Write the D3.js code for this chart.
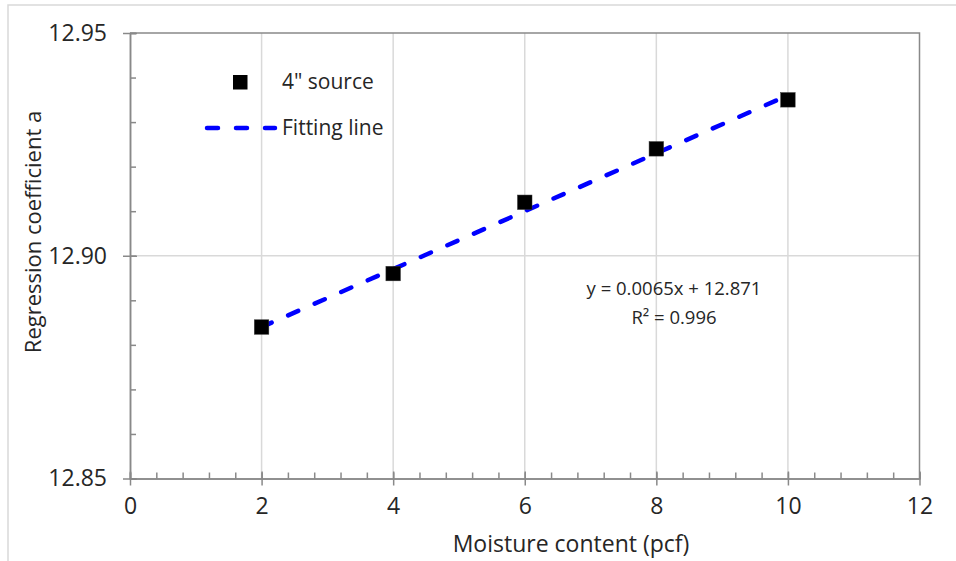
<!DOCTYPE html>
<html>
<head>
<meta charset="utf-8">
<script src="https://cdn.jsdelivr.net/npm/d3@7"></script>
<style>
    body { margin: 0; background: #fff; }
    #chart text { font-family: "Open Sans", sans-serif; fill: #262626; }
</style>
</head>
<body>
<div id="chart"></div>
<script>
var moisture = [2, 4, 6, 8, 10];
var coefficientA = [12.884, 12.896, 12.912, 12.924, 12.935];
var fitSlope = 0.0065;
var fitIntercept = 12.871;
var xTicks = [0, 2, 4, 6, 8, 10, 12];
var yTicks = [12.85, 12.90, 12.95];
var legendLabels = ["4\" source", "Fitting line"];
var equationLines = ["y = 0.0065x + 12.871", "R\u00b2 = 0.996"];

var MoistureChart;
(function (MoistureChart) {
    var Chart = (function () {
        function Chart() {
            this.svg = d3.select("#chart").append("svg").attr("width", Chart.width).attr("height", Chart.height);
            this.x = d3.scaleLinear().domain([0, 12]).range([130, 919.5]);
            this.y = d3.scaleLinear().domain([12.85, 12.95]).range([478.5, 33]);
            this.drawFrame();
            this.drawGrid();
            this.drawAxes();
            this.drawSeries();
            this.drawLegend();
            this.drawLabels();
        }

        Chart.prototype.drawFrame = function () {
            this.svg.append("rect").attr("x", 8).attr("y", 5).attr("width", 1000).attr("height", 600)
                .attr("fill", "none").attr("stroke", "#d9d9d9").attr("stroke-width", 1.5);
        };

        Chart.prototype.drawGrid = function () {
            var _this = this;
            this.svg.append("g").selectAll("line").data(xTicks.slice(1, -1)).enter().append("line")
                .attr("x1", function (d) { return _this.x(d); }).attr("x2", function (d) { return _this.x(d); })
                .attr("y1", this.y(12.95)).attr("y2", this.y(12.85))
                .attr("stroke", "#d9d9d9").attr("stroke-width", 1.5);
            this.svg.append("g").selectAll("line").data(yTicks.slice(1, -1)).enter().append("line")
                .attr("x1", this.x(0)).attr("x2", this.x(12))
                .attr("y1", function (d) { return _this.y(d); }).attr("y2", function (d) { return _this.y(d); })
                .attr("stroke", "#d9d9d9").attr("stroke-width", 1.5);
            // top and right edges of plot area
            this.svg.append("path")
                .attr("d", "M" + this.x(0) + "," + this.y(12.95) + "H" + this.x(12) + "V" + this.y(12.85))
                .attr("fill", "none").attr("stroke", "#898989").attr("stroke-width", 1.5);
        };

        Chart.prototype.drawAxes = function () {
            var x = this.x, y = this.y;
            var axisColor = "#898989";

            var xMinor = d3.range(0, 12.001, 0.4);
            var xAxisMinor = this.svg.append("g").attr("transform", "translate(0," + y(12.85) + ")")
                .call(d3.axisBottom(x).tickValues(xMinor).tickSize(-6).tickFormat(""));
            var xAxis = this.svg.append("g").attr("transform", "translate(0," + y(12.85) + ")")
                .call(d3.axisBottom(x).tickValues(xTicks).tickSize(7).tickSizeOuter(0).tickPadding(12).tickFormat(d3.format("d")));
            xAxis.selectAll(".tick line").attr("y1", -7);

            var yMinor = d3.range(12.85, 12.9501, 0.01);
            var yAxisMinor = this.svg.append("g").attr("transform", "translate(" + x(0) + ",0)")
                .call(d3.axisLeft(y).tickValues(yMinor).tickSize(-6).tickFormat(""));
            var yAxis = this.svg.append("g").attr("transform", "translate(" + x(0) + ",0)")
                .call(d3.axisLeft(y).tickValues(yTicks).tickSize(7).tickSizeOuter(0).tickPadding(16).tickFormat(d3.format(".2f")));
            yAxis.selectAll(".tick line").attr("x1", 7);

            [xAxisMinor, xAxis, yAxisMinor, yAxis].forEach(function (g) {
                g.select(".domain").attr("stroke", axisColor).attr("stroke-width", 1.5);
                g.selectAll(".tick line").attr("stroke", axisColor).attr("stroke-width", 1.5);
                g.selectAll(".tick text").style("font-size", "23px").style("font-family", "'Open Sans', sans-serif").attr("fill", "#262626");
            });
        };

        Chart.prototype.drawSeries = function () {
            var x = this.x, y = this.y;
            var fitX = [d3.min(moisture), d3.max(moisture)];
            var line = d3.line().x(function (d) { return x(d); }).y(function (d) { return y(fitSlope * d + fitIntercept); });
            this.svg.append("path").datum(fitX).attr("d", line)
                .attr("fill", "none").attr("stroke", "#0000ff").attr("stroke-width", 4.5)
                .attr("stroke-linecap", "round").attr("stroke-dasharray", "11,18");

            var size = 14.5;
            this.svg.append("g").selectAll("rect").data(moisture).enter().append("rect")
                .attr("x", function (d) { return x(d) - size / 2; })
                .attr("y", function (d, i) { return y(coefficientA[i]) - size / 2; })
                .attr("width", size).attr("height", size)
                .attr("fill", "#000").attr("stroke", "#333").attr("stroke-width", 0.5);
        };

        Chart.prototype.drawLegend = function () {
            var g = this.svg.append("g");
            g.append("rect").attr("x", 233).attr("y", 75).attr("width", 14.5).attr("height", 14.5).attr("fill", "#000");
            g.append("text").attr("x", 282).attr("y", 82).attr("dy", "0.35em").style("font-size", "21px").text(legendLabels[0]);
            g.append("line").attr("x1", 207).attr("x2", 275).attr("y1", 128).attr("y2", 128)
                .attr("stroke", "#0000ff").attr("stroke-width", 4.5).attr("stroke-linecap", "round").attr("stroke-dasharray", "11,18");
            g.append("text").attr("x", 282).attr("y", 128).attr("dy", "0.35em").style("font-size", "21px").text(legendLabels[1]);
        };

        Chart.prototype.drawLabels = function () {
            this.svg.append("g").selectAll("text").data(equationLines).enter().append("text")
                .attr("x", 674).attr("y", function (d, i) { return 289 + i * 29; }).attr("dy", "0.35em")
                .attr("text-anchor", "middle").style("font-size", "18.5px").text(function (d) { return d; });

            this.svg.append("text").attr("x", 571).attr("y", 544).attr("dy", "0.35em")
                .attr("text-anchor", "middle").style("font-size", "23px").text("Moisture content (pcf)");
            this.svg.append("text").attr("transform", "translate(33,232) rotate(-90)").attr("dy", "0.35em")
                .attr("text-anchor", "middle").style("font-size", "22px").text("Regression coefficient a");
        };
        Chart.width = 956;
        Chart.height = 561;
        return Chart;
    })();
    MoistureChart.Chart = Chart;
})(MoistureChart || (MoistureChart = {}));

window.onload = function () {
    var chart = new MoistureChart.Chart();
};
</script>
</body>
</html>
